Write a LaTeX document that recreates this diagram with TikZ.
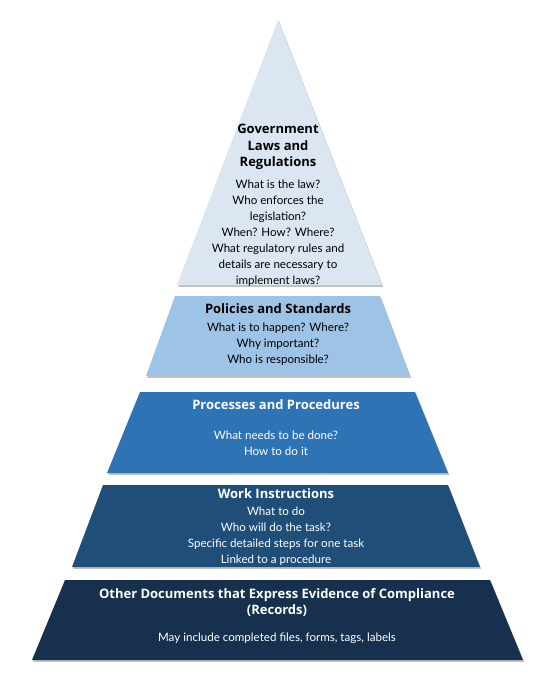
\documentclass[tikz,border=0pt]{standalone}
\usepackage{fontspec}
\setmainfont{Lato}
\newfontfamily\headfont{Open Sans}
\usetikzlibrary{shadows}

\definecolor{lawblue}{HTML}{DCE6F2}
\definecolor{policyblue}{HTML}{9DC3E6}
\definecolor{processblue}{HTML}{2E74B5}
\definecolor{workblue}{HTML}{1F4E79}
\definecolor{recordblue}{HTML}{17304E}

\tikzset{
  band/.style={draw=none, drop shadow={shadow xshift=1.2pt, shadow yshift=-1.8pt, opacity=0.35, fill=black!70}},
  head/.style={font=\headfont\bfseries\fontsize{13}{16.8}\selectfont, align=center, inner sep=0pt},
  body/.style={font=\fontsize{11.6}{16}\selectfont, align=center, inner sep=0pt},
}

\begin{document}
\begin{tikzpicture}[x=1pt,y=-1pt]
\useasboundingbox (0,0) rectangle (553,683);

% pyramid
\fill[band,fill=lawblue] (278,20) -- (382,285) -- (177,285) -- cycle;
\fill[band,fill=policyblue] (175,296) -- (380,296) -- (410,376) -- (146,376) -- cycle;
\fill[band,fill=processblue] (140,392) -- (415,392) -- (448,473) -- (107,473) -- cycle;
\fill[band,fill=workblue] (103,485) -- (448,485) -- (480,567) -- (72,567) -- cycle;
\fill[band,fill=recordblue] (65,580) -- (490,580) -- (523,660) -- (32,660) -- cycle;

% texts
\node[head] (lawhead) at (278,147) {Government\\Laws and\\Regulations};
\node[body] (lawtext) at (278,233) {What is the law?\\Who enforces the\\legislation?\\When? How? Where?\\What regulatory rules and\\details are necessary to\\implement laws?};

\node[head] (policyhead) at (278,309) {Policies and Standards};
\node[body] (policytext) at (278,344) {What is to happen? Where?\\Why important?\\Who is responsible?};

\node[head,white] (processhead) at (276,405) {Processes and Procedures};
\node[body,white] (processtext) at (276,443.5) {What needs to be done?\\How to do it};

\node[head,white] (workhead) at (276,494) {Work Instructions};
\node[body,white] (worktext) at (276,536) {What to do\\Who will do the task?\\Specific detailed steps for one task\\Linked to a procedure};

\node[head,white] (recordhead) at (277,602.5) {Other Documents that Express Evidence of Compliance\\(Records)};
\node[body,white] (recordtext) at (277,638) {May include completed files, forms, tags, labels};

\end{tikzpicture}
\end{document}
